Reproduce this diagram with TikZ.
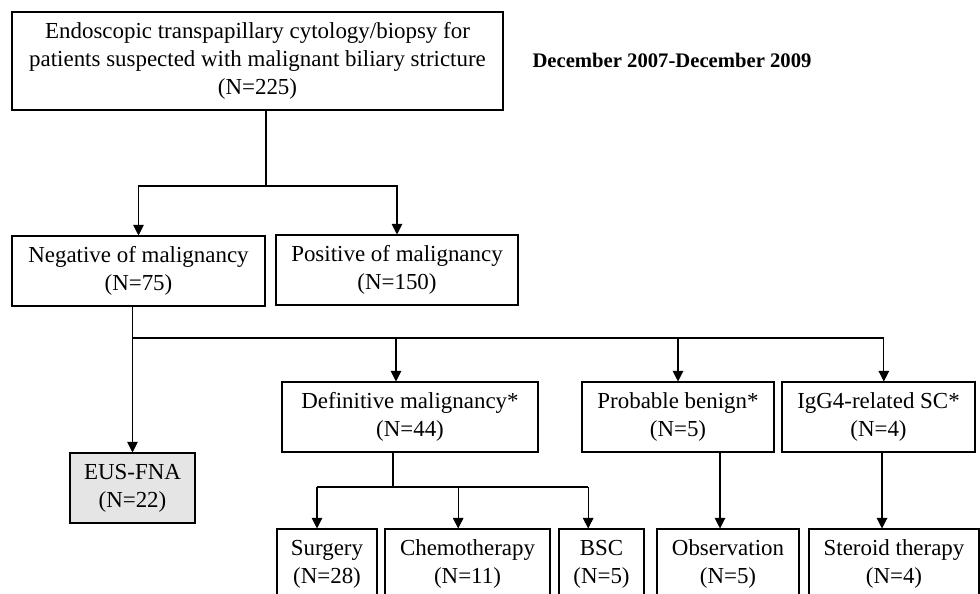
\documentclass[tikz,border=0pt]{standalone}
\usepackage{fontspec}
\setmainfont{Liberation Serif}
\usetikzlibrary{arrows.meta}

\begin{document}
\begin{tikzpicture}[x=0.75pt,y=-0.75pt,line width=0.8pt,
	box/.style={draw, align=center, inner sep=0pt, minimum height=52.5pt,
		font=\fontsize{17.2}{20.8}\selectfont},
	wd/.style={minimum width=#1*0.75pt},
	arr/.style={-{Triangle[width=8pt,length=8pt]}}]
	\clip (0,0) rectangle (980,593);
	% boxes
	\node[box, wd=491, minimum height=73.5pt] (all) at (257.5,61) {Endoscopic transpapillary cytology/biopsy for\\patients suspected with malignant biliary stricture\\(N=225)};
	\node[anchor=west, inner sep=0pt, font=\bfseries\fontsize{15.5}{18}\selectfont] (period) at (532,60) {December 2007-December 2009};
	\node[box, wd=253] (neg) at (138.5,271) {Negative of malignancy\\(N=75)};
	\node[box, wd=242] (pos) at (397,270) {Positive of malignancy\\(N=150)};
	\node[box, wd=125, fill=gray!20] (eus) at (132.5,488) {EUS-FNA\\(N=22)};
	\node[box, wd=256] (def) at (410,417) {Definitive malignancy*\\(N=44)};
	\node[box, wd=192] (prob) at (678,417) {Probable benign*\\(N=5)};
	\node[box, wd=193] (igg) at (878.5,417) {IgG4-related SC*\\(N=4)};
	\node[box, wd=100] (surg) at (327,564) {Surgery\\(N=28)};
	\node[box, wd=165] (chemo) at (467.5,564) {Chemotherapy\\(N=11)};
	\node[box, wd=85] (bsc) at (601.5,564) {BSC\\(N=5)};
	\node[box, wd=142] (obs) at (728,564) {Observation\\(N=5)};
	\node[box, wd=170] (ster) at (894,564) {Steroid therapy\\(N=4)};
	% first split
	\coordinate (s1) at (266,186);
	\draw (all.south -| s1) -- (s1);
	\draw[arr] (s1) -| (neg.north);
	\draw[arr] (s1) -| (pos.north);
	% negative branch
	\coordinate (s2) at (132,338);
	\coordinate (d1) at ([xshift=-10.5pt]def.north);
	\coordinate (d3) at ([xshift=4pt]igg.north);
	\draw[arr] (neg.south -| eus.north) -- (eus.north);
	\draw (s2) -- (s2 -| d3);
	\draw[arr] (s2 -| d1) -- (d1);
	\draw[arr] (s2 -| prob.north) -- (prob.north);
	\draw[arr] (s2 -| d3) -- (d3);
	% treatments
	\coordinate (s3) at (393,487);
	\coordinate (b1) at ([xshift=-7.5pt]surg.north);
	\coordinate (b2) at ([xshift=-7pt]chemo.north);
	\coordinate (b3) at ([xshift=-10pt]bsc.north);
	\coordinate (b4) at ([xshift=-6pt]obs.north);
	\coordinate (b5) at ([xshift=-9pt]ster.north);
	\draw (def.south -| s3) -- (s3);
	\draw (s3 -| b1) -- (s3 -| b3);
	\draw[arr] (s3 -| b1) -- (b1);
	\draw[arr] (s3 -| b2) -- (b2);
	\draw[arr] (s3 -| b3) -- (b3);
	\draw[arr] (prob.south -| b4) -- (b4);
	\draw[arr] (igg.south -| b5) -- (b5);
\end{tikzpicture}
\end{document}
